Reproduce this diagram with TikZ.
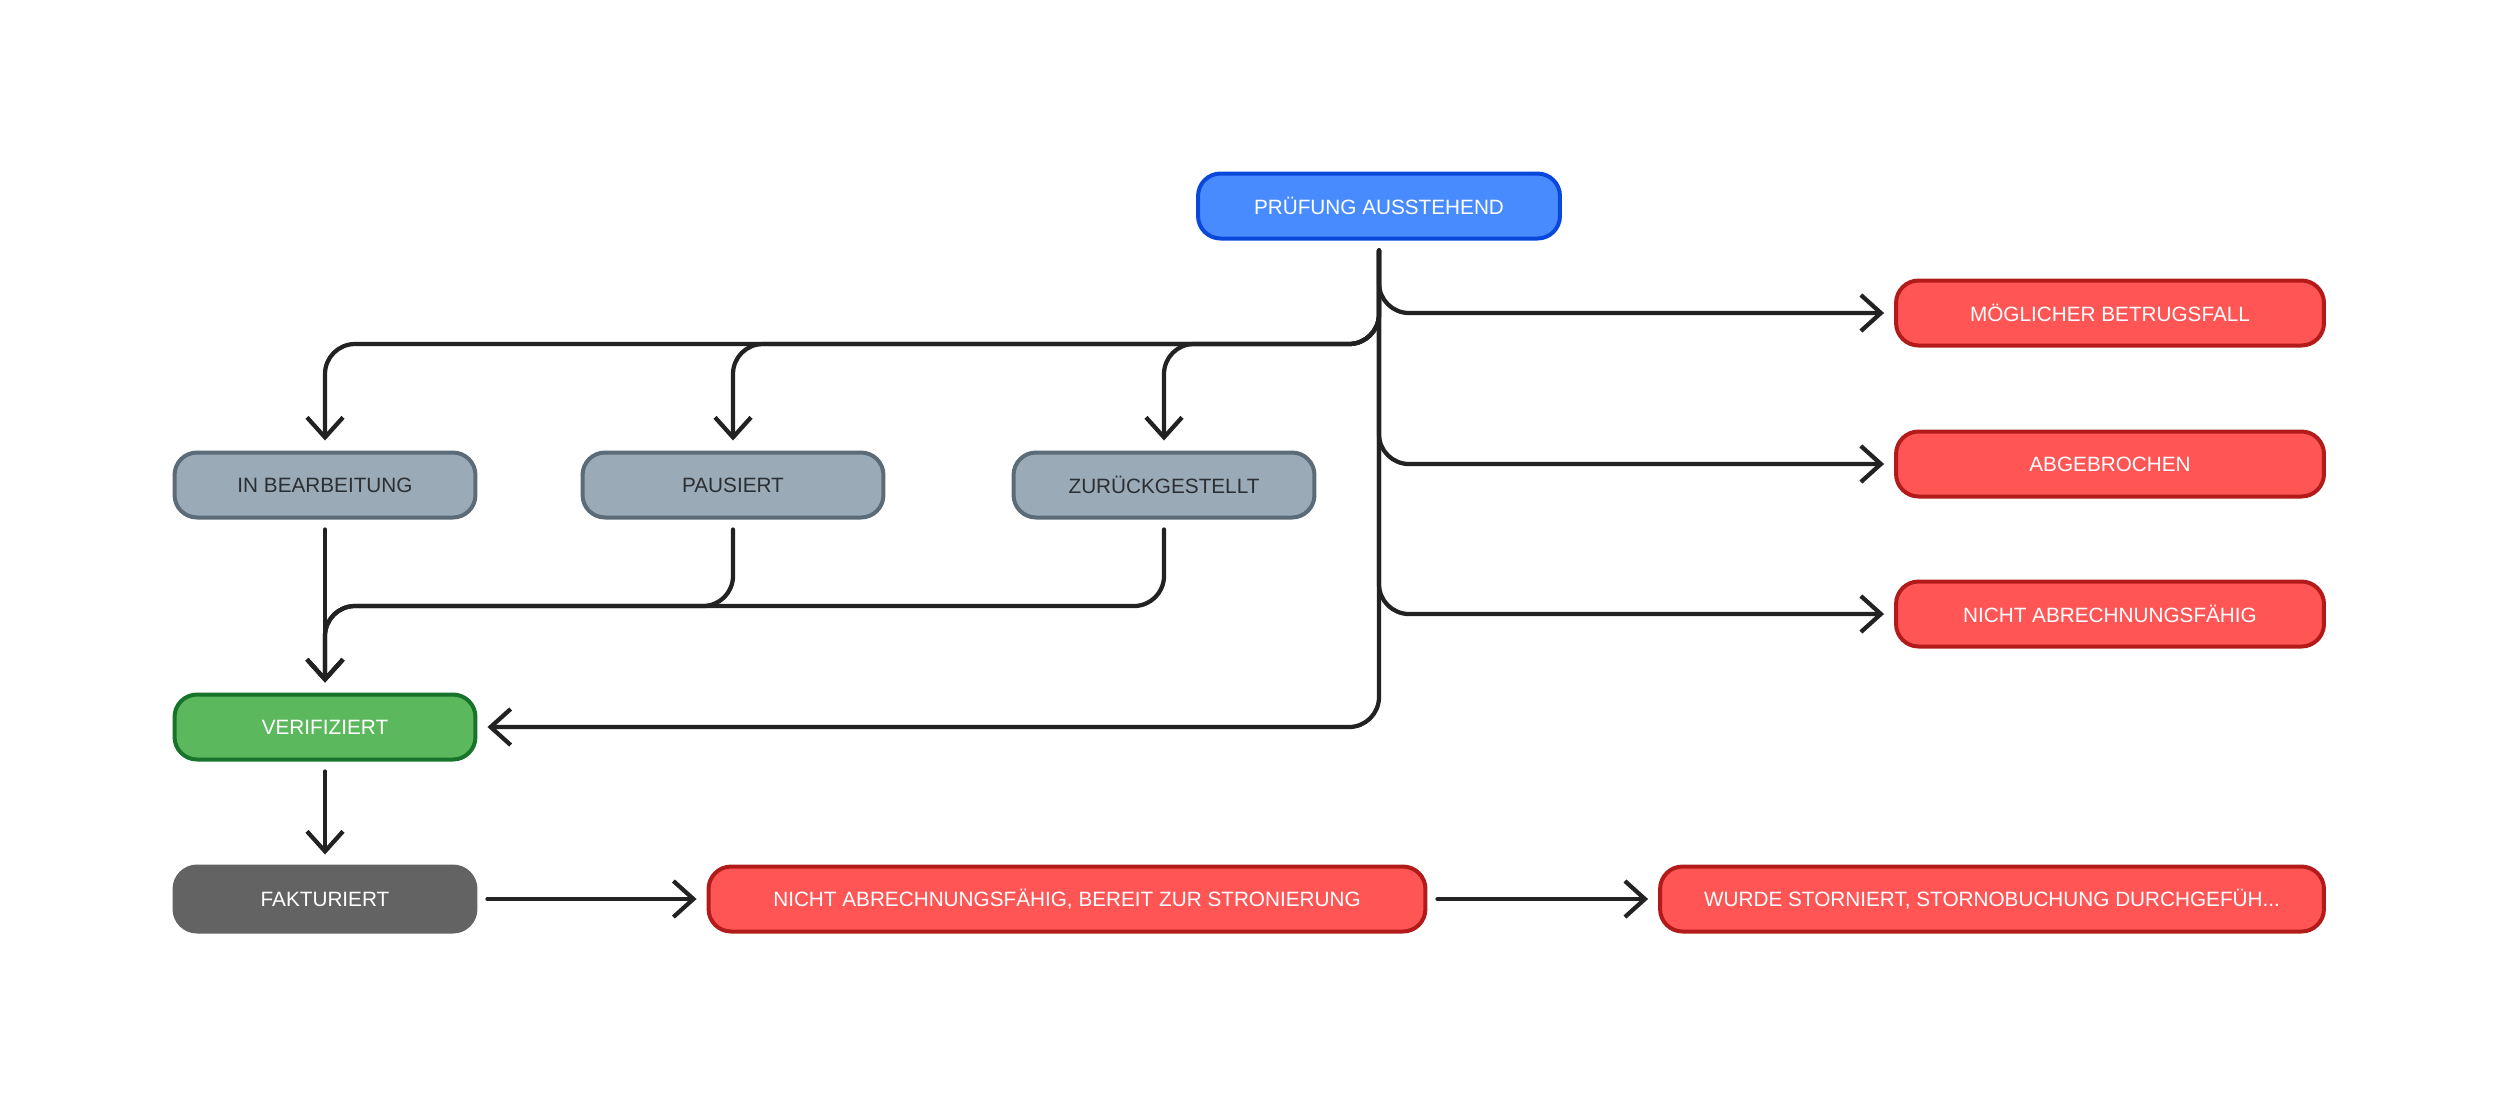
\documentclass[tikz,border=0pt]{standalone}
\usepackage{fontspec}
\setmainfont{Liberation Sans}
\usetikzlibrary{arrows.meta, positioning}
\definecolor{stblue}{HTML}{488BFF}
\definecolor{stbluedark}{HTML}{0A47DB}
\definecolor{stred}{HTML}{FF5555}
\definecolor{streddark}{HTML}{B31B1B}
\definecolor{stgray}{HTML}{9AABB7}
\definecolor{stgraydark}{HTML}{5B6B78}
\definecolor{stgreen}{HTML}{5CB85C}
\definecolor{stgreendark}{HTML}{17742A}
\definecolor{stdark}{HTML}{636363}
\definecolor{stline}{HTML}{222222}
\definecolor{sttext}{HTML}{2B2F33}

\begin{document}
\begin{tikzpicture}[x=0.02cm, y=-0.02cm,
  state/.style={rounded corners=0.45cm, line width=0.08cm, minimum height=1.3cm,
    inner sep=0pt, font=\fontsize{11.8}{13}\selectfont},
  pending/.style={state, fill=stblue, draw=stbluedark, text=white},
  failed/.style={state, fill=stred, draw=streddark, text=white},
  waiting/.style={state, fill=stgray, draw=stgraydark, text=sttext},
  done/.style={state, fill=stgreen, draw=stgreendark, text=white},
  billedbox/.style={state, fill=stdark, draw=stdark, text=white},
  flow/.style={draw=stline, line width=0.085cm, rounded corners=0.6cm,
    line cap=round, line join=round,
    -{Straight Barb[length=0.4cm, width=0.72cm]},
    shorten <=0.2cm, shorten >=0.2cm}
]
\useasboundingbox (0,0) rectangle (2500,1107);

% Start state
\node[pending, minimum width=7.24cm] (pend) at (1379,206) {PRÜFUNG AUSSTEHEND};

% Terminal states on the right
\node[failed, minimum width=8.56cm] (fraud) at (2110,313) {MÖGLICHER BETRUGSFALL};
\node[failed, minimum width=8.56cm] (abort) at (2110,464) {ABGEBROCHEN};
\node[failed, minimum width=8.56cm] (nobill) at (2110,614) {NICHT ABRECHNUNGSFÄHIG};

% Intermediate states
\node[waiting, minimum width=6.02cm] (inprog) at (325,485) {IN BEARBEITUNG};
\node[waiting, minimum width=6.02cm] (paused) at (733,485) {PAUSIERT};
\node[waiting, minimum width=6.02cm] (deferred) at (1164,485) {ZURÜCKGESTELLT};

% Verified and billed
\node[done, minimum width=6.02cm] (verif) at (325,727) {VERIFIZIERT};
\node[billedbox, minimum width=6.02cm] (billed) at (325,899) {FAKTURIERT};
\node[failed, minimum width=14.34cm] (cancel) at (1067,899) {NICHT ABRECHNUNGSFÄHIG, BEREIT ZUR STRONIERUNG};
\node[failed, minimum width=13.28cm] (storno) at (1992,899) {WURDE STORNIERT, STORNOBUCHUNG DURCHGEFÜH...};

% Bus lines
\coordinate (upbus) at (0,344);
\coordinate (lowbus) at (0,606);

% From pending
\draw[flow] (pend.south) -- (pend.south |- fraud.west) -- (fraud.west);
\draw[flow] (pend.south) -- (pend.south |- abort.west) -- (abort.west);
\draw[flow] (pend.south) -- (pend.south |- nobill.west) -- (nobill.west);
\draw[flow] (pend.south) -- (pend.south |- verif.east) -- (verif.east);
\foreach \s in {inprog, paused, deferred} {
  \draw[flow] (pend.south) -- (pend.south |- upbus) -- (\s.north |- upbus) -- (\s.north);
}

% Into verified
\draw[flow] (inprog.south) -- (verif.north);
\foreach \s in {paused, deferred} {
  \draw[flow] (\s.south) -- (\s.south |- lowbus) -- (verif.north |- lowbus) -- (verif.north);
}

% Billing chain
\draw[flow] (verif.south) -- (billed.north);
\draw[flow] (billed.east) -- (cancel.west);
\draw[flow] (cancel.east) -- (storno.west);

\end{tikzpicture}
\end{document}
